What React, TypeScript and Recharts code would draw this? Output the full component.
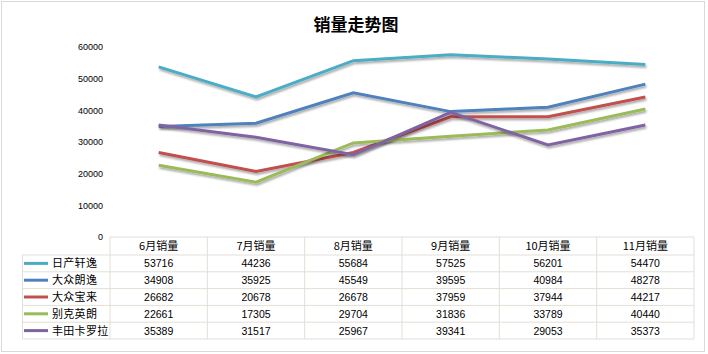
import React from "react";
import { LineChart, Line, XAxis, YAxis, Legend } from "recharts";

const categories = ["6月销量", "7月销量", "8月销量", "9月销量", "10月销量", "11月销量"];
const seriesNames = ["日产轩逸", "大众朗逸", "大众宝来", "别克英朗", "丰田卡罗拉"];
const nissanSylphy = [53716, 44236, 55684, 57525, 56201, 54470];
const vwLavida = [34908, 35925, 45549, 39595, 40984, 48278];
const vwBora = [26682, 20678, 26678, 37959, 37944, 44217];
const buickVerano = [22661, 17305, 29704, 31836, 33789, 40440];
const toyotaCorolla = [35389, 31517, 25967, 39341, 29053, 35373];
const yTicks = [0, 10000, 20000, 30000, 40000, 50000, 60000];

const seriesValues = [nissanSylphy, vwLavida, vwBora, buickVerano, toyotaCorolla];
const colors = ["#4BACC6", "#4F81BD", "#C0504D", "#9BBB59", "#8064A2"];

const data = categories.map((name, i) => {
  const row: Record<string, string | number> = { name };
  seriesValues.forEach((vals, s) => {
    row["s" + s] = vals[i];
  });
  return row;
});

const W = 708;
const H = 354;
const headerH = 18;
const rowH = 16.8;
const border = "#E2DFD6";
const font = '"Liberation Sans", "Noto Sans CJK SC", sans-serif';
const cjkFont = '"Noto Sans CJK SC", "Liberation Sans", sans-serif';

function TableTick(props: any) {
  const { x, y, payload, index } = props;
  const half = payload && typeof payload.offset === "number" && payload.offset > 0 ? payload.offset : (W - 124) / 12;
  const left = x - half;
  const right = x + half;
  const bottom = y + headerH + rowH * seriesNames.length;
  const lines = [];
  for (let r = 0; r <= seriesNames.length; r++) {
    const ly = y + headerH + rowH * r;
    lines.push(<line key={"h" + r} x1={left} x2={right} y1={ly} y2={ly} stroke={border} />);
  }
  return (
    <g>
      {index === 0 && <line x1={left} x2={left} y1={y} y2={bottom} stroke={border} />}
      <line x1={right} x2={right} y1={y} y2={bottom} stroke={border} />
      {lines}
      <text x={x} y={y + headerH / 2 + 4} textAnchor="middle" fontSize={11} fontFamily={cjkFont} fill="#000">
        {payload.value}
      </text>
      {seriesValues.map((vals, s) => (
        <text
          key={s}
          x={x}
          y={y + headerH + rowH * s + rowH / 2 + 4}
          textAnchor="middle"
          fontSize={10.5}
          fontFamily={font}
          fill="#000"
        >
          {vals[index]}
        </text>
      ))}
    </g>
  );
}

function TableLegend(props: any) {
  const payload = [...(props.payload || [])].sort(
    (a: any, b: any) => seriesNames.indexOf(a.value) - seriesNames.indexOf(b.value)
  );
  const w = 88;
  const h = rowH * payload.length;
  return (
    <svg width={w + 1} height={h + 1} style={{ display: "block", overflow: "visible" }}>
      <line x1={0.5} x2={0.5} y1={0} y2={h} stroke={border} />
      {payload.map((p: any, i: number) => (
        <g key={i}>
          <line x1={0} x2={w} y1={rowH * i} y2={rowH * i} stroke={border} />
          <line x1={2} x2={26} y1={rowH * i + rowH / 2} y2={rowH * i + rowH / 2} stroke={p.color} strokeWidth={3} />
          <text x={30} y={rowH * i + rowH / 2 + 4} fontSize={11} fontFamily={cjkFont} fill="#000" letterSpacing={0.3}>
            {p.value}
          </text>
        </g>
      ))}
      <line x1={0} x2={w} y1={h} y2={h} stroke={border} />
    </svg>
  );
}

export default function App() {
  return (
    <div style={{ position: "absolute", left: 0, top: 0, width: W, height: H, background: "#fff" }}>
      <div
        style={{
          position: "absolute",
          left: 1,
          top: 1,
          width: W - 4,
          height: H - 3,
          border: "1px solid #D9D9D9",
          boxSizing: "border-box",
        }}
      />
      <div
        style={{
          position: "absolute",
          left: 0,
          top: 11,
          width: 712,
          textAlign: "center",
          fontFamily: cjkFont,
          fontWeight: "bold",
          fontSize: 17,
          color: "#000",
        }}
      >
        销量走势图
      </div>
      <LineChart width={W} height={H} data={data} margin={{ top: 47, right: 14, bottom: 0, left: 50 }}>
        <defs>
          <filter id="lineShadow" x="-10%" y="-10%" width="120%" height="130%">
            <feGaussianBlur in="SourceAlpha" stdDeviation="1.2" />
            <feOffset dx="1" dy="2" result="blur" />
            <feComponentTransfer>
              <feFuncA type="linear" slope="0.35" />
            </feComponentTransfer>
            <feMerge>
              <feMergeNode />
              <feMergeNode in="SourceGraphic" />
            </feMerge>
          </filter>
        </defs>
        <XAxis
          dataKey="name"
          scale="band"
          height={117}
          tickSize={0}
          tickMargin={0}
          axisLine={{ stroke: border }}
          tickLine={false}
          interval={0}
          tick={<TableTick />}
        />
        <YAxis
          domain={[0, 60000]}
          ticks={yTicks}
          width={60}
          axisLine={false}
          tickLine={false}
          tickSize={0}
          tickMargin={7}
          tick={{ fontSize: 9, fontFamily: font, fill: "#000" }}
          interval={0}
        />
        <Legend
          layout="horizontal"
          verticalAlign="middle"
          align="center"
          content={<TableLegend />}
          wrapperStyle={{ left: 22, top: 255, width: 89, height: 86, margin: 0 }}
        />
        {seriesNames.map((name, s) => (
          <Line
            key={name}
            type="linear"
            dataKey={"s" + s}
            name={name}
            stroke={colors[s]}
            strokeWidth={3}
            dot={false}
            activeDot={false}
            filter="url(#lineShadow)"
            isAnimationActive={false}
          />
        ))}
      </LineChart>
    </div>
  );
}
